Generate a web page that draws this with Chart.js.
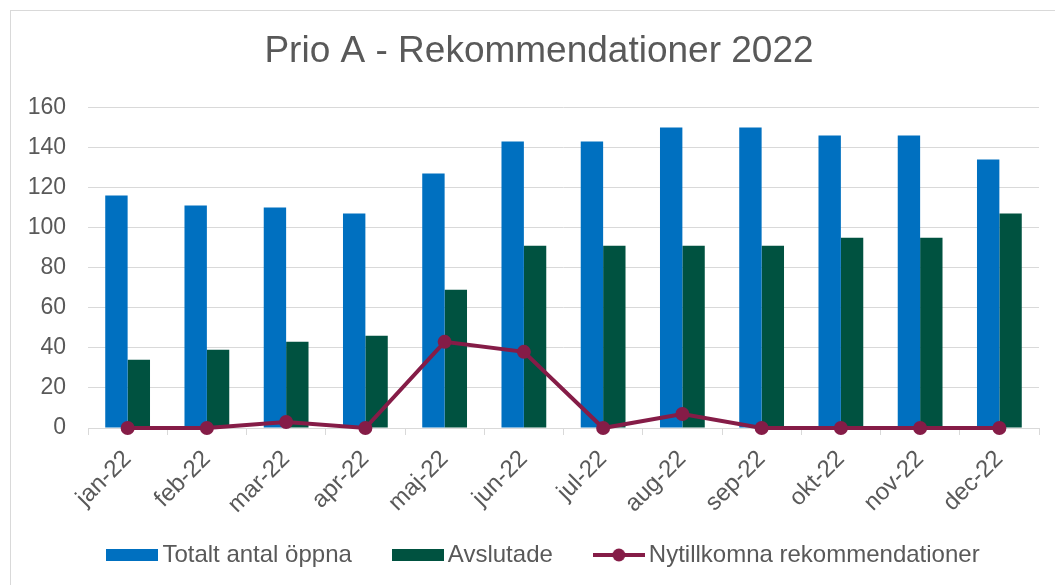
<!DOCTYPE html>
<html>
<head>
<meta charset="utf-8">
<script src="https://cdn.jsdelivr.net/npm/chart.js@4.4.1/dist/chart.umd.min.js"></script>
<style>
  html, body { margin: 0; padding: 0; background: #ffffff; overflow: hidden; }
  #wrap { position: absolute; left: 0; top: 0; width: 1055px; height: 585px; }
  #frame { position: absolute; left: 10px; top: 10px; width: 1100px; height: 700px; border: 1px solid #d9d9d9; box-sizing: border-box; }
  canvas { position: absolute; left: 0; top: 0; }
</style>
</head>
<body>
<div id="wrap">
  <div id="frame"></div>
  <canvas id="c" width="1055" height="585"></canvas>
</div>
<script>
const categories = ['jan-22','feb-22','mar-22','apr-22','maj-22','jun-22','jul-22','aug-22','sep-22','okt-22','nov-22','dec-22'];
const totaltOppna = [116, 111, 110, 107, 127, 143, 143, 150, 150, 146, 146, 134];
const avslutade = [34, 39, 43, 46, 69, 91, 91, 91, 91, 95, 95, 107];
const nytillkomna = [0, 0, 3, 0, 43, 38, 0, 7, 0, 0, 0, 0];
const seriesNames = ['Totalt antal öppna', 'Avslutade', 'Nytillkomna rekommendationer'];
const titleText = 'Prio A - Rekommendationer 2022';
const yTicks = [0, 20, 40, 60, 80, 100, 120, 140, 160];

const BLUE = '#0070C0';
const GREEN = '#005240';
const MAROON = '#851C47';
const TEXT = '#595959';
const GRID = '#d9d9d9';
const FONT = "'Liberation Sans', Arial, sans-serif";

function boxImage(color) {
  const c = document.createElement('canvas');
  c.width = 52; c.height = 12;
  const x = c.getContext('2d');
  x.fillStyle = color; x.fillRect(0, 0, 52, 12);
  return c;
}
function lineImage(color) {
  const c = document.createElement('canvas');
  c.width = 52; c.height = 14;
  const x = c.getContext('2d');
  x.strokeStyle = color; x.lineWidth = 4;
  x.beginPath(); x.moveTo(0, 7); x.lineTo(52, 7); x.stroke();
  x.fillStyle = color; x.beginPath(); x.arc(26, 7, 6.5, 0, Math.PI * 2); x.fill();
  return c;
}
const legendImgs = [boxImage(BLUE), boxImage(GREEN), lineImage(MAROON)];

const PAD_L = 39, PAD_R = 16, LEGEND_SHIFT = 8;

const shiftLegend = {
  id: 'shiftLegend',
  beforeDraw(chart) {
    if (chart.legend && !chart.legend._shifted) {
      chart.legend.left += LEGEND_SHIFT;
      chart.legend.right += LEGEND_SHIFT;
      chart.legend._shifted = true;
    }
  }
};

new Chart(document.getElementById('c'), {
  type: 'bar',
  data: {
    labels: categories,
    datasets: [
      { type: 'bar', label: seriesNames[0], data: totaltOppna, backgroundColor: BLUE, order: 1,
        categoryPercentage: 0.565, barPercentage: 1 },
      { type: 'bar', label: seriesNames[1], data: avslutade, backgroundColor: GREEN, order: 1,
        categoryPercentage: 0.565, barPercentage: 1 },
      { type: 'line', label: seriesNames[2], data: nytillkomna, borderColor: MAROON, backgroundColor: MAROON,
        borderWidth: 4, pointRadius: 7, pointBackgroundColor: MAROON, pointBorderColor: MAROON,
        pointBorderWidth: 0, tension: 0, order: 0, clip: false }
    ]
  },
  plugins: [shiftLegend],
  options: {
    responsive: false,
    animation: false,
    devicePixelRatio: 1,
    layout: { padding: { left: PAD_L, right: PAD_R, top: 0, bottom: 8 } },
    plugins: {
      tooltip: { enabled: false },
      title: {
        display: true, text: titleText, color: TEXT,
        font: { family: FONT, size: 37, weight: 'normal' },
        padding: { top: 30, bottom: 33 }
      },
      legend: {
        position: 'bottom',
        labels: {
          font: { family: FONT, size: 24 },
          color: TEXT,
          usePointStyle: true,
          pointStyleWidth: 36,
          padding: 48,
          generateLabels: (chart) => chart.data.datasets.map((ds, i) => ({
            text: ds.label, fillStyle: ds.backgroundColor, strokeStyle: ds.backgroundColor,
            lineWidth: 0, pointStyle: legendImgs[i], hidden: false, datasetIndex: i, fontColor: TEXT
          }))
        }
      }
    },
    scales: {
      x: {
        grid: { offset: true, drawOnChartArea: false, drawTicks: true, tickLength: 7, color: GRID },
        border: { display: true, color: GRID, width: 1 },
        ticks: { color: TEXT, font: { family: FONT, size: 24 }, maxRotation: 45, minRotation: 45, padding: 10, autoSkip: false },
        afterFit: (s) => { s.height = 67; s._computeLabelArea = () => null; }
      },
      y: {
        min: 0, max: 160,
        afterBuildTicks: (s) => { s.ticks = yTicks.map(v => ({ value: v })); },
        grid: { color: GRID, lineWidth: 1, drawTicks: false },
        border: { display: false },
        ticks: { color: TEXT, font: { family: FONT, size: 23 }, padding: 22 },
        afterFit: (s) => { s.width = 88 - PAD_L; s._computeLabelArea = () => null; }
      }
    }
  }
});
</script>
</body>
</html>
